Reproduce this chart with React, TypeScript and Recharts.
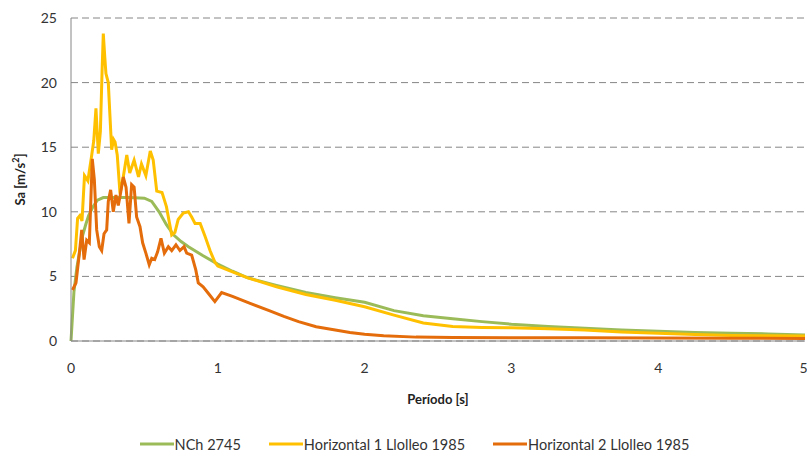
import { LineChart, Line, XAxis, YAxis, CartesianGrid, Legend } from 'recharts';

// NCh 2745 design spectrum
const periodsNch = [0, 0.02, 0.04, 0.06, 0.08, 0.1, 0.12, 0.15, 0.18, 0.22, 0.3, 0.4, 0.5, 0.55, 0.6, 0.65, 0.7, 0.75, 0.8, 0.9, 1.0, 1.1, 1.2, 1.4, 1.6, 1.8, 2.0, 2.2, 2.4, 2.6, 2.8, 3.0, 3.25, 3.5, 3.75, 4.0, 4.25, 4.5, 4.75, 5.0];
const saNch = [0, 3.8, 5.7, 7.0, 8.2, 9.0, 9.7, 10.4, 10.9, 11.1, 11.1, 11.1, 11.05, 10.8, 10.0, 9.0, 8.2, 7.7, 7.3, 6.6, 5.95, 5.4, 4.9, 4.3, 3.75, 3.35, 3.0, 2.35, 1.95, 1.72, 1.5, 1.3, 1.12, 0.98, 0.85, 0.75, 0.66, 0.6, 0.55, 0.47];

// Horizontal 1 Llolleo 1985
const periodsH1 = [0.01, 0.03, 0.045, 0.06, 0.075, 0.092, 0.115, 0.14, 0.155, 0.17, 0.186, 0.2, 0.212, 0.22, 0.23, 0.238, 0.254, 0.265, 0.277, 0.29, 0.3, 0.315, 0.334, 0.356, 0.38, 0.4, 0.43, 0.46, 0.48, 0.51, 0.54, 0.56, 0.584, 0.62, 0.65, 0.686, 0.708, 0.73, 0.765, 0.8, 0.822, 0.845, 0.88, 0.913, 0.947, 0.98, 1.0, 1.1, 1.2, 1.4, 1.6, 1.8, 2.0, 2.2, 2.4, 2.6, 2.8, 3.0, 3.25, 3.5, 3.75, 4.0, 4.25, 4.5, 4.75, 5.0];
const saH1 = [6.4, 7.0, 9.5, 9.7, 9.3, 12.8, 12.4, 14.3, 15.5, 18.0, 14.5, 16.2, 21.0, 23.8, 22.0, 20.7, 20.0, 17.5, 14.8, 15.6, 15.4, 14.4, 11.4, 12.7, 14.4, 13.0, 14.0, 12.7, 13.7, 12.8, 14.7, 14.0, 11.6, 11.5, 10.4, 8.2, 8.4, 9.4, 9.9, 10.0, 9.6, 9.1, 9.1, 8.1, 7.0, 6.1, 5.8, 5.35, 4.9, 4.2, 3.6, 3.15, 2.65, 2.0, 1.4, 1.12, 1.05, 1.02, 0.95, 0.85, 0.7, 0.6, 0.5, 0.42, 0.4, 0.38];

// Horizontal 2 Llolleo 1985
const periodsH2 = [0.01, 0.034, 0.057, 0.073, 0.089, 0.107, 0.125, 0.145, 0.159, 0.175, 0.193, 0.209, 0.225, 0.243, 0.254, 0.27, 0.288, 0.306, 0.322, 0.334, 0.356, 0.375, 0.395, 0.413, 0.43, 0.447, 0.47, 0.488, 0.51, 0.533, 0.55, 0.57, 0.59, 0.613, 0.636, 0.663, 0.686, 0.715, 0.742, 0.77, 0.788, 0.822, 0.85, 0.867, 0.9, 0.935, 0.98, 1.026, 1.1, 1.22, 1.35, 1.45, 1.55, 1.67, 1.8, 1.9, 2.0, 2.13, 2.35, 2.6, 3.0, 3.5, 4.0, 4.5, 5.0];
const saH2 = [3.95, 4.5, 6.8, 8.6, 6.3, 7.8, 7.6, 14.1, 12.5, 8.6, 7.3, 7.0, 8.3, 8.6, 10.8, 11.7, 10.0, 11.3, 10.5, 11.2, 12.7, 11.9, 9.1, 12.1, 11.9, 9.6, 8.85, 7.6, 6.8, 5.9, 6.4, 6.3, 6.9, 7.95, 6.8, 7.3, 7.0, 7.45, 7.0, 7.3, 6.8, 6.65, 5.5, 4.5, 4.2, 3.7, 3.05, 3.75, 3.45, 2.92, 2.35, 1.9, 1.5, 1.1, 0.85, 0.65, 0.52, 0.4, 0.3, 0.28, 0.26, 0.25, 0.24, 0.22, 0.2];

const xTicks = [0, 1, 2, 3, 4, 5];
const yTicks = [0, 5, 10, 15, 20, 25];

const series = [
  { name: 'NCh 2745', color: '#9BBB59', data: periodsNch.map((t, i) => ({ t, sa: saNch[i] })) },
  { name: 'Horizontal 1 Llolleo 1985', color: '#FFC000', data: periodsH1.map((t, i) => ({ t, sa: saH1[i] })) },
  { name: 'Horizontal 2 Llolleo 1985', color: '#E46C0A', data: periodsH2.map((t, i) => ({ t, sa: saH2[i] })) },
];

const font = 'Lato, "Open Sans", sans-serif';
const axisGray = '#868686';

function LegendContent() {
  return (
    <div style={{ display: 'flex', justifyContent: 'center', alignItems: 'center', height: 22, paddingLeft: 52, transform: 'translateY(4px)', fontFamily: font, fontSize: 14.5, color: '#333' }}>
      {series.map((s) => (
        <div key={s.name} style={{ display: 'flex', alignItems: 'center', marginRight: 28 }}>
          <svg width={34} height={6} style={{ marginRight: 1 }}>
            <line x1={0} y1={3} x2={34} y2={3} stroke={s.color} strokeWidth={3} />
          </svg>
          <span>{s.name}</span>
        </div>
      ))}
    </div>
  );
}

function YLabel({ viewBox }: any) {
  const cy = viewBox.y + viewBox.height / 2;
  const cx = 20;
  return (
    <text x={cx} y={cy} transform={`rotate(-90 ${cx} ${cy})`} textAnchor="middle" dominantBaseline="central" fontFamily={font} fontSize={13} fontWeight="bold" fill="#222">
      <tspan>Sa [m/s</tspan>
      <tspan dy={-5} fontSize={9}>2</tspan>
      <tspan dy={5}>]</tspan>
    </text>
  );
}

function XLabel({ viewBox }: any) {
  return (
    <text x={viewBox.x + viewBox.width / 2} y={viewBox.y + 63} textAnchor="middle" fontFamily={font} fontSize={13} fontWeight="bold" fill="#222">
      Período [s]
    </text>
  );
}

export default function App() {
  return (
    <div style={{ position: 'absolute', left: 0, top: 0, width: 807, height: 451, background: '#fff' }}>
      <LineChart width={807} height={451} margin={{ top: 18, right: 2, left: 0, bottom: 0 }}>
        <CartesianGrid vertical={false} stroke={axisGray} strokeDasharray="7 4" />
        <XAxis
          type="number"
          dataKey="t"
          domain={[0, 5]}
          ticks={xTicks}
          allowDuplicatedCategory={false}
          height={88}
          tickLine={false}
          tickSize={0}
          tickMargin={22}
          stroke={axisGray}
          tick={{ fill: '#333', fontSize: 14, fontFamily: font }}
          label={<XLabel />}
        />
        <YAxis
          type="number"
          domain={[0, 25]}
          ticks={yTicks}
          width={71}
          tickLine={false}
          tickSize={0}
          tickMargin={14}
          stroke={axisGray}
          tick={{ fill: '#333', fontSize: 14, fontFamily: font }}
          label={<YLabel />}
        />
        <Legend verticalAlign="bottom" height={22} content={<LegendContent />} />
        {series.map((s) => (
          <Line
            key={s.name}
            data={s.data}
            dataKey="sa"
            name={s.name}
            type="linear"
            stroke={s.color}
            strokeWidth={3}
            dot={false}
            activeDot={false}
            isAnimationActive={false}
          />
        ))}
      </LineChart>
    </div>
  );
}
